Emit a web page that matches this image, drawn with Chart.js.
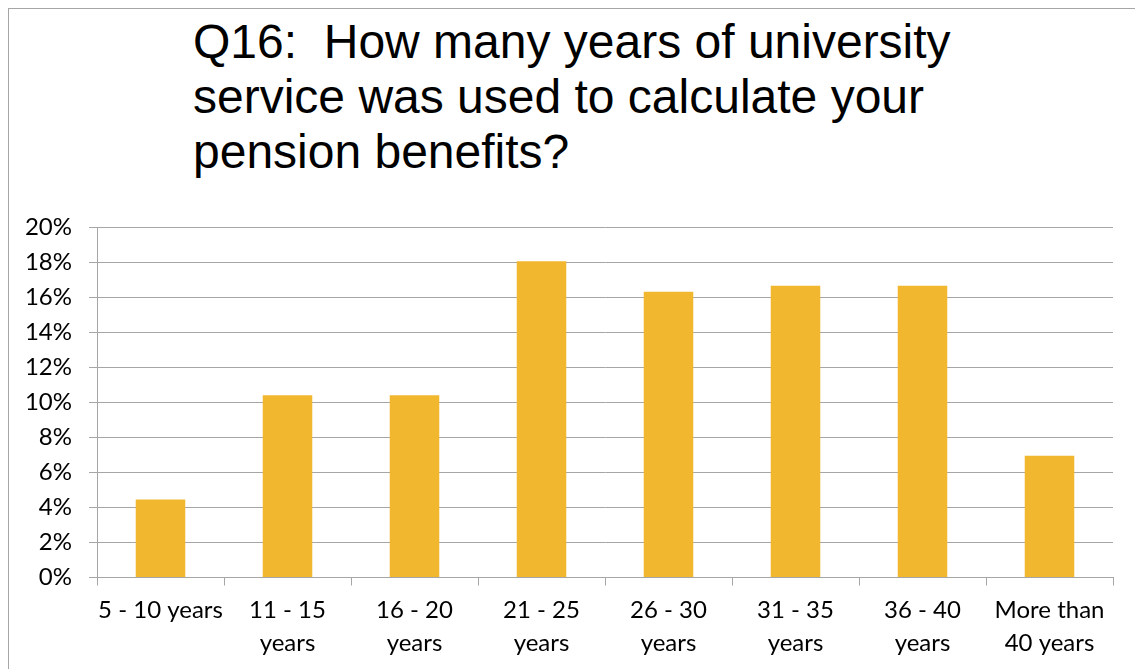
<!DOCTYPE html>
<html>
<head>
<meta charset="utf-8">
<script src="https://cdn.jsdelivr.net/npm/chart.js@4/dist/chart.umd.min.js"></script>
<style>
    html, body { margin: 0; padding: 0; background: #ffffff; overflow: hidden; }
    #frame {
        position: absolute; left: 8px; top: 8px; width: 1200px; height: 700px;
        border: 1px solid #a6a6a6; box-sizing: border-box;
    }
    #title {
        position: absolute; left: 193px; top: 14px;
        font-family: "Liberation Sans", Arial, sans-serif; font-size: 48px;
        line-height: 55px; color: #000000; white-space: nowrap;
    }
    #wrap { position: absolute; left: 0; top: 0; width: 1135px; height: 669px; }
</style>
</head>
<body>
<div id="frame"></div>
<div id="title">Q16:&nbsp; How many years of university<br>service was used to calculate your<br>pension benefits?</div>
<div id="wrap"><canvas id="serviceChart" width="1135" height="669"></canvas></div>

<script>
// ===================== DATA =====================
const categories = [
    ['5 - 10 years'],
    ['11 - 15', 'years'],
    ['16 - 20', 'years'],
    ['21 - 25', 'years'],
    ['26 - 30', 'years'],
    ['31 - 35', 'years'],
    ['36 - 40', 'years'],
    ['More than', '40 years']
];
const shareValues = [4.45, 10.4, 10.4, 18.05, 16.3, 16.65, 16.65, 6.95];
const yTicks = [0, 2, 4, 6, 8, 10, 12, 14, 16, 18, 20];

// ===================== CHART =====================
const labelFont = { family: 'Lato, "Open Sans", sans-serif', size: 24, lineHeight: 1.375 };
const gridGray = '#a6a6a6';

const ctx = document.getElementById('serviceChart').getContext('2d');
const serviceChart = new Chart(ctx, {
    type: 'bar',
    data: {
        labels: categories,
        datasets: [{
            data: shareValues,
            backgroundColor: '#f0b72f',
            borderWidth: 0,
            categoryPercentage: 1,
            barPercentage: 0.39
        }]
    },
    options: {
        responsive: false,
        animation: false,
        layout: {
            padding: { left: 20, right: 22, top: 227, bottom: 0 }
        },
        plugins: {
            legend: { display: false },
            tooltip: { enabled: false }
        },
        scales: {
            y: {
                min: 0,
                max: 20,
                afterBuildTicks: function(scale) {
                    scale.ticks = yTicks.map(v => ({ value: v }));
                },
                afterFit: function(scale) {
                    scale.width = 77;
                },
                ticks: {
                    color: '#000000',
                    font: labelFont,
                    padding: 17,
                    autoSkip: false,
                    callback: v => v + '%'
                },
                grid: {
                    color: gridGray,
                    lineWidth: 1,
                    tickLength: 8
                },
                border: { color: gridGray }
            },
            x: {
                offset: true,
                afterFit: function(scale) {
                    scale.height = 91.5;
                },
                ticks: {
                    color: '#000000',
                    font: labelFont,
                    padding: 8,
                    maxRotation: 0,
                    autoSkip: false
                },
                grid: {
                    offset: true,
                    drawOnChartArea: false,
                    color: gridGray,
                    tickLength: 8
                },
                border: { color: gridGray }
            }
        }
    }
});
</script>
</body>
</html>
